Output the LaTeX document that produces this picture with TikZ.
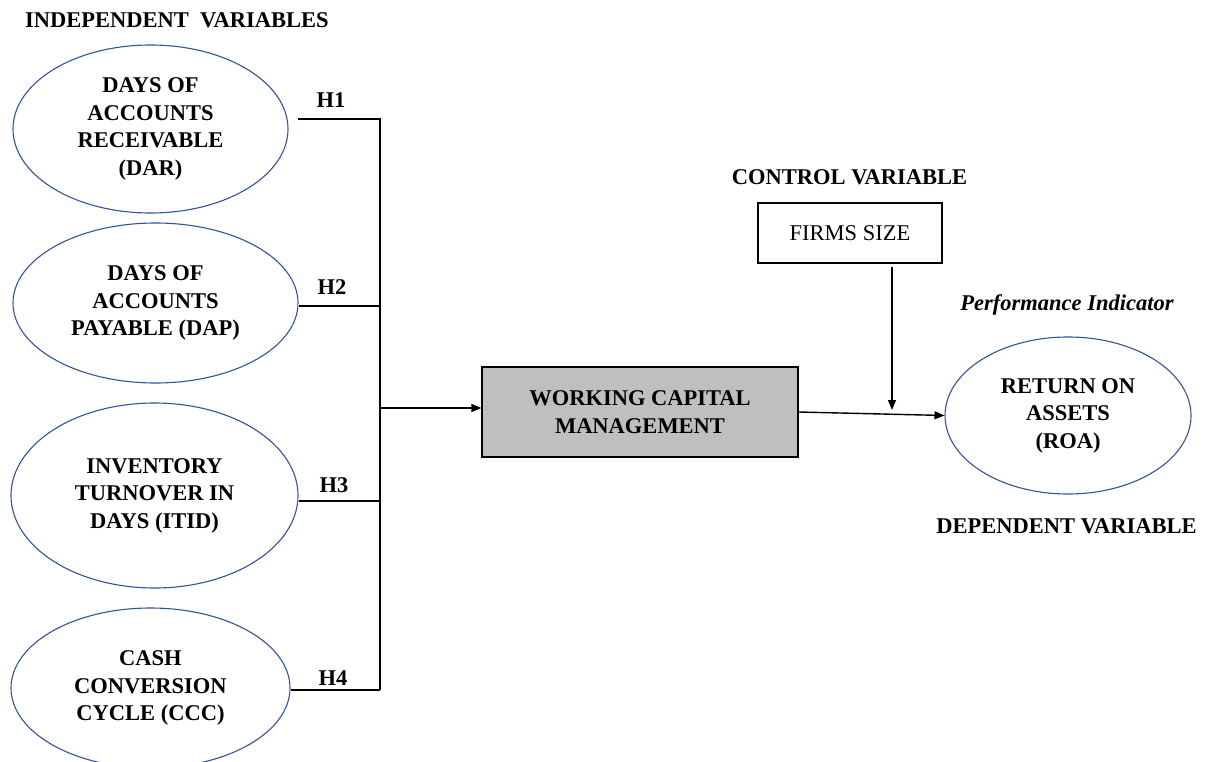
\documentclass[tikz,border=0pt]{standalone}
\usepackage{fontspec}
\setmainfont{Liberation Serif}
\usetikzlibrary{shapes.geometric,arrows.meta}
\definecolor{ellblue}{HTML}{2F5597}
\definecolor{boxgrey}{HTML}{BFBFBF}
\begin{document}
\begin{tikzpicture}[x=1pt,y=-1pt,
  txt/.style={font=\fontsize{22.5}{27.5}\selectfont\bfseries, align=center},
  var/.style={ellipse, draw=ellblue, line width=1.1pt, inner sep=0pt, txt},
  conn/.style={line width=1.4pt},
  arr/.style={line width=1.4pt, -{Triangle[length=10pt,width=8pt]}}]
\useasboundingbox (0,0) rectangle (1206,762);

% title labels
\node[txt, anchor=west, inner sep=0pt] (indep) at (25,20) {INDEPENDENT\ \ VARIABLES};
\node[txt, inner sep=0pt] (ctrl) at (849.5,177) {CONTROL VARIABLE};
\node[txt, inner sep=0pt, font=\fontsize{22.5}{27.5}\selectfont\bfseries\itshape] (perf) at (1067,305) {Performance Indicator};
\node[txt, inner sep=0pt] (dep) at (1066.5,526) {DEPENDENT VARIABLE};

% independent variables
\node[var, minimum width=275pt, minimum height=168pt] (e1) at (150.5,129) {DAYS OF\\ACCOUNTS\\RECEIVABLE\\(DAR)};
\node[var, minimum width=285pt, minimum height=160pt] (e2) at (155.5,303) {DAYS OF\\ACCOUNTS\\PAYABLE (DAP)};
\node[var, minimum width=287pt, minimum height=185pt] (e3) at (154.5,495.5) {INVENTORY\\TURNOVER IN\\DAYS (ITID)};
\node[var, minimum width=279pt, minimum height=160pt] (e4) at (150.5,688) {CASH\\CONVERSION\\CYCLE (CCC)};

% central and other boxes
\node[draw, line width=1.4pt, fill=boxgrey, minimum width=316pt, minimum height=90pt, inner sep=0pt, txt] (wcm) at (640,412) {WORKING CAPITAL\\MANAGEMENT};
\node[draw, line width=1.2pt, minimum width=184pt, minimum height=60pt, inner sep=0pt, font=\fontsize{22.5}{27.5}\selectfont] (fs) at (850,233) {FIRMS SIZE};
\node[var, minimum width=246pt, minimum height=157pt] (roa) at (1068,415.5) {RETURN ON\\ASSETS\\(ROA)};

% bus coordinates
\coordinate (h1s) at (298,119);
\coordinate (h1e) at (380,119);
\coordinate (h2e) at (380,306);
\coordinate (h3e) at (380,501);
\coordinate (h4e) at (380,690);
\coordinate (j) at (380,408);
\coordinate (fs1) at (892,267);
\coordinate (fs2) at (892,410);

% connectors
\draw[conn] (h1s) -- (h1e) -- (h4e);
\draw[conn] (e2.east |- h2e) -- (h2e);
\draw[conn] (e3.east |- h3e) -- (h3e);
\draw[conn] (e4.east |- h4e) -- (h4e);
\draw[arr] (j) -- (j -| wcm.west);
\draw[arr] (wcm.east) -- (roa.west);
\draw[arr] (fs1) -- (fs2);

% hypothesis labels
\node[txt, inner sep=0pt] (H1) at (331,100) {H1};
\node[txt, inner sep=0pt] (H2) at (332,287) {H2};
\node[txt, inner sep=0pt] (H3) at (334,485) {H3};
\node[txt, inner sep=0pt] (H4) at (333,678) {H4};
\end{tikzpicture}
\end{document}
